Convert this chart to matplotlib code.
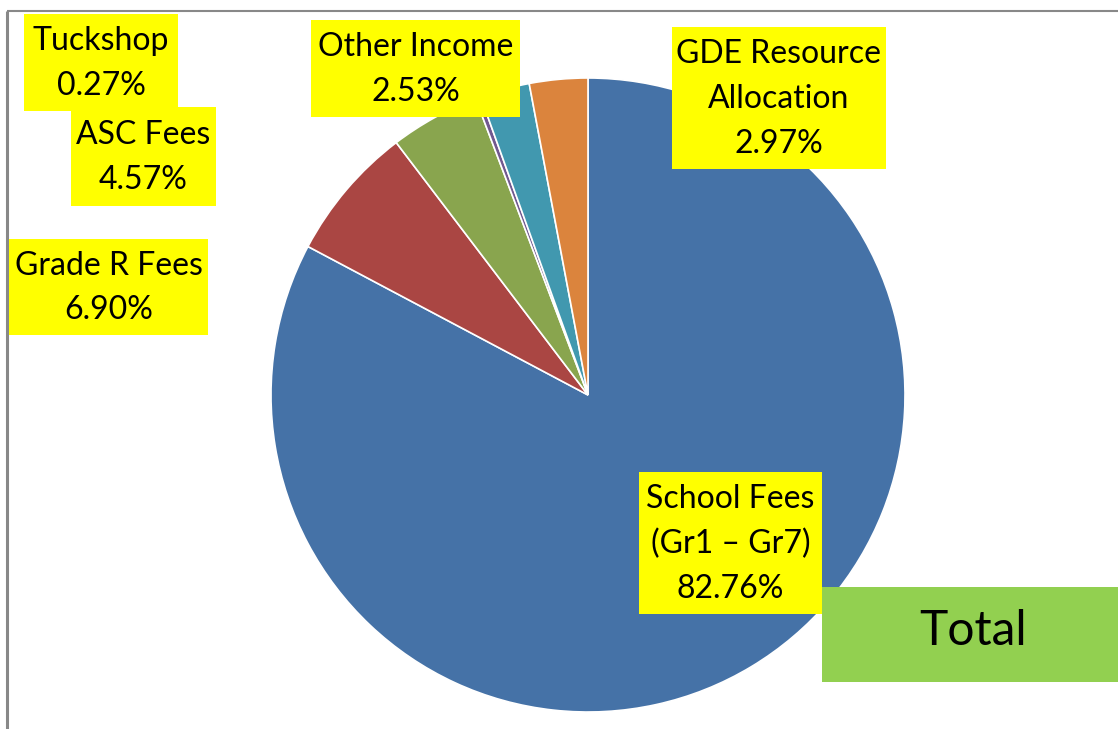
import matplotlib.pyplot as plt
from matplotlib.patches import Rectangle

plt.rcParams['font.family'] = ['Lato', 'DejaVu Sans']

# slices, clockwise from 12 o'clock
labels = ['School Fees\n(Gr1 – Gr7)', 'Grade R Fees', 'ASC Fees', 'Tuckshop',
          'Other Income', 'GDE Resource\nAllocation']
shares = [82.76, 6.90, 4.57, 0.27, 2.53, 2.97]
colors = ['#4572A7', '#AA4643', '#89A54E', '#71588F', '#4198AF', '#DB843D']
explode = [0, 0, 0, 0, 0, 0.015]

# label boxes in pixels (left, top, right, bottom) from top-left of image
boxes = [(639, 472, 822, 614), (9, 239, 208, 335), (71, 107, 216, 206),
         (24, 14, 178, 111), (311, 20, 520, 117), (672, 27, 886, 169)]

W, H = 1118, 729
fig = plt.figure(figsize=(W / 100, H / 100), dpi=100)
ax = fig.add_axes([0, 0, 1, 1])

ax.pie(shares, colors=colors, startangle=90, counterclock=False,
       center=(588, H - 395), radius=317, explode=explode,
       wedgeprops=dict(edgecolor='white', linewidth=1.2))

ax.set_aspect('equal')
ax.axis('off')

# frame (left and top only visible)
ax.plot([7, 7], [0, H - 11], color='#888888', lw=2.2, solid_capstyle='butt')
ax.plot([7, W], [H - 11, H - 11], color='#888888', lw=1.5, solid_capstyle='butt')

for lab, val, (l, t, r, b) in zip(labels, shares, boxes):
    ax.add_patch(Rectangle((l, H - b), r - l, b - t, facecolor='#FFFF00',
                           edgecolor='none', zorder=5))
    ax.text((l + r) / 2, H - (t + b) / 2 - 1, '%s\n%.2f%%' % (lab, val),
            ha='center', va='center', multialignment='center',
            fontsize=23, linespacing=1.62, color='black', zorder=6)

# "Total" legend box
ax.add_patch(Rectangle((822, H - 682), W - 822, 95, facecolor='#92D050',
                       edgecolor='none', zorder=5))
ax.text(973, H - 631, 'Total', ha='center', va='center', fontsize=34.5,
        color='black', zorder=6)

ax.set_xlim(0, W)
ax.set_ylim(0, H)
fig.savefig('out.png', dpi=100)
